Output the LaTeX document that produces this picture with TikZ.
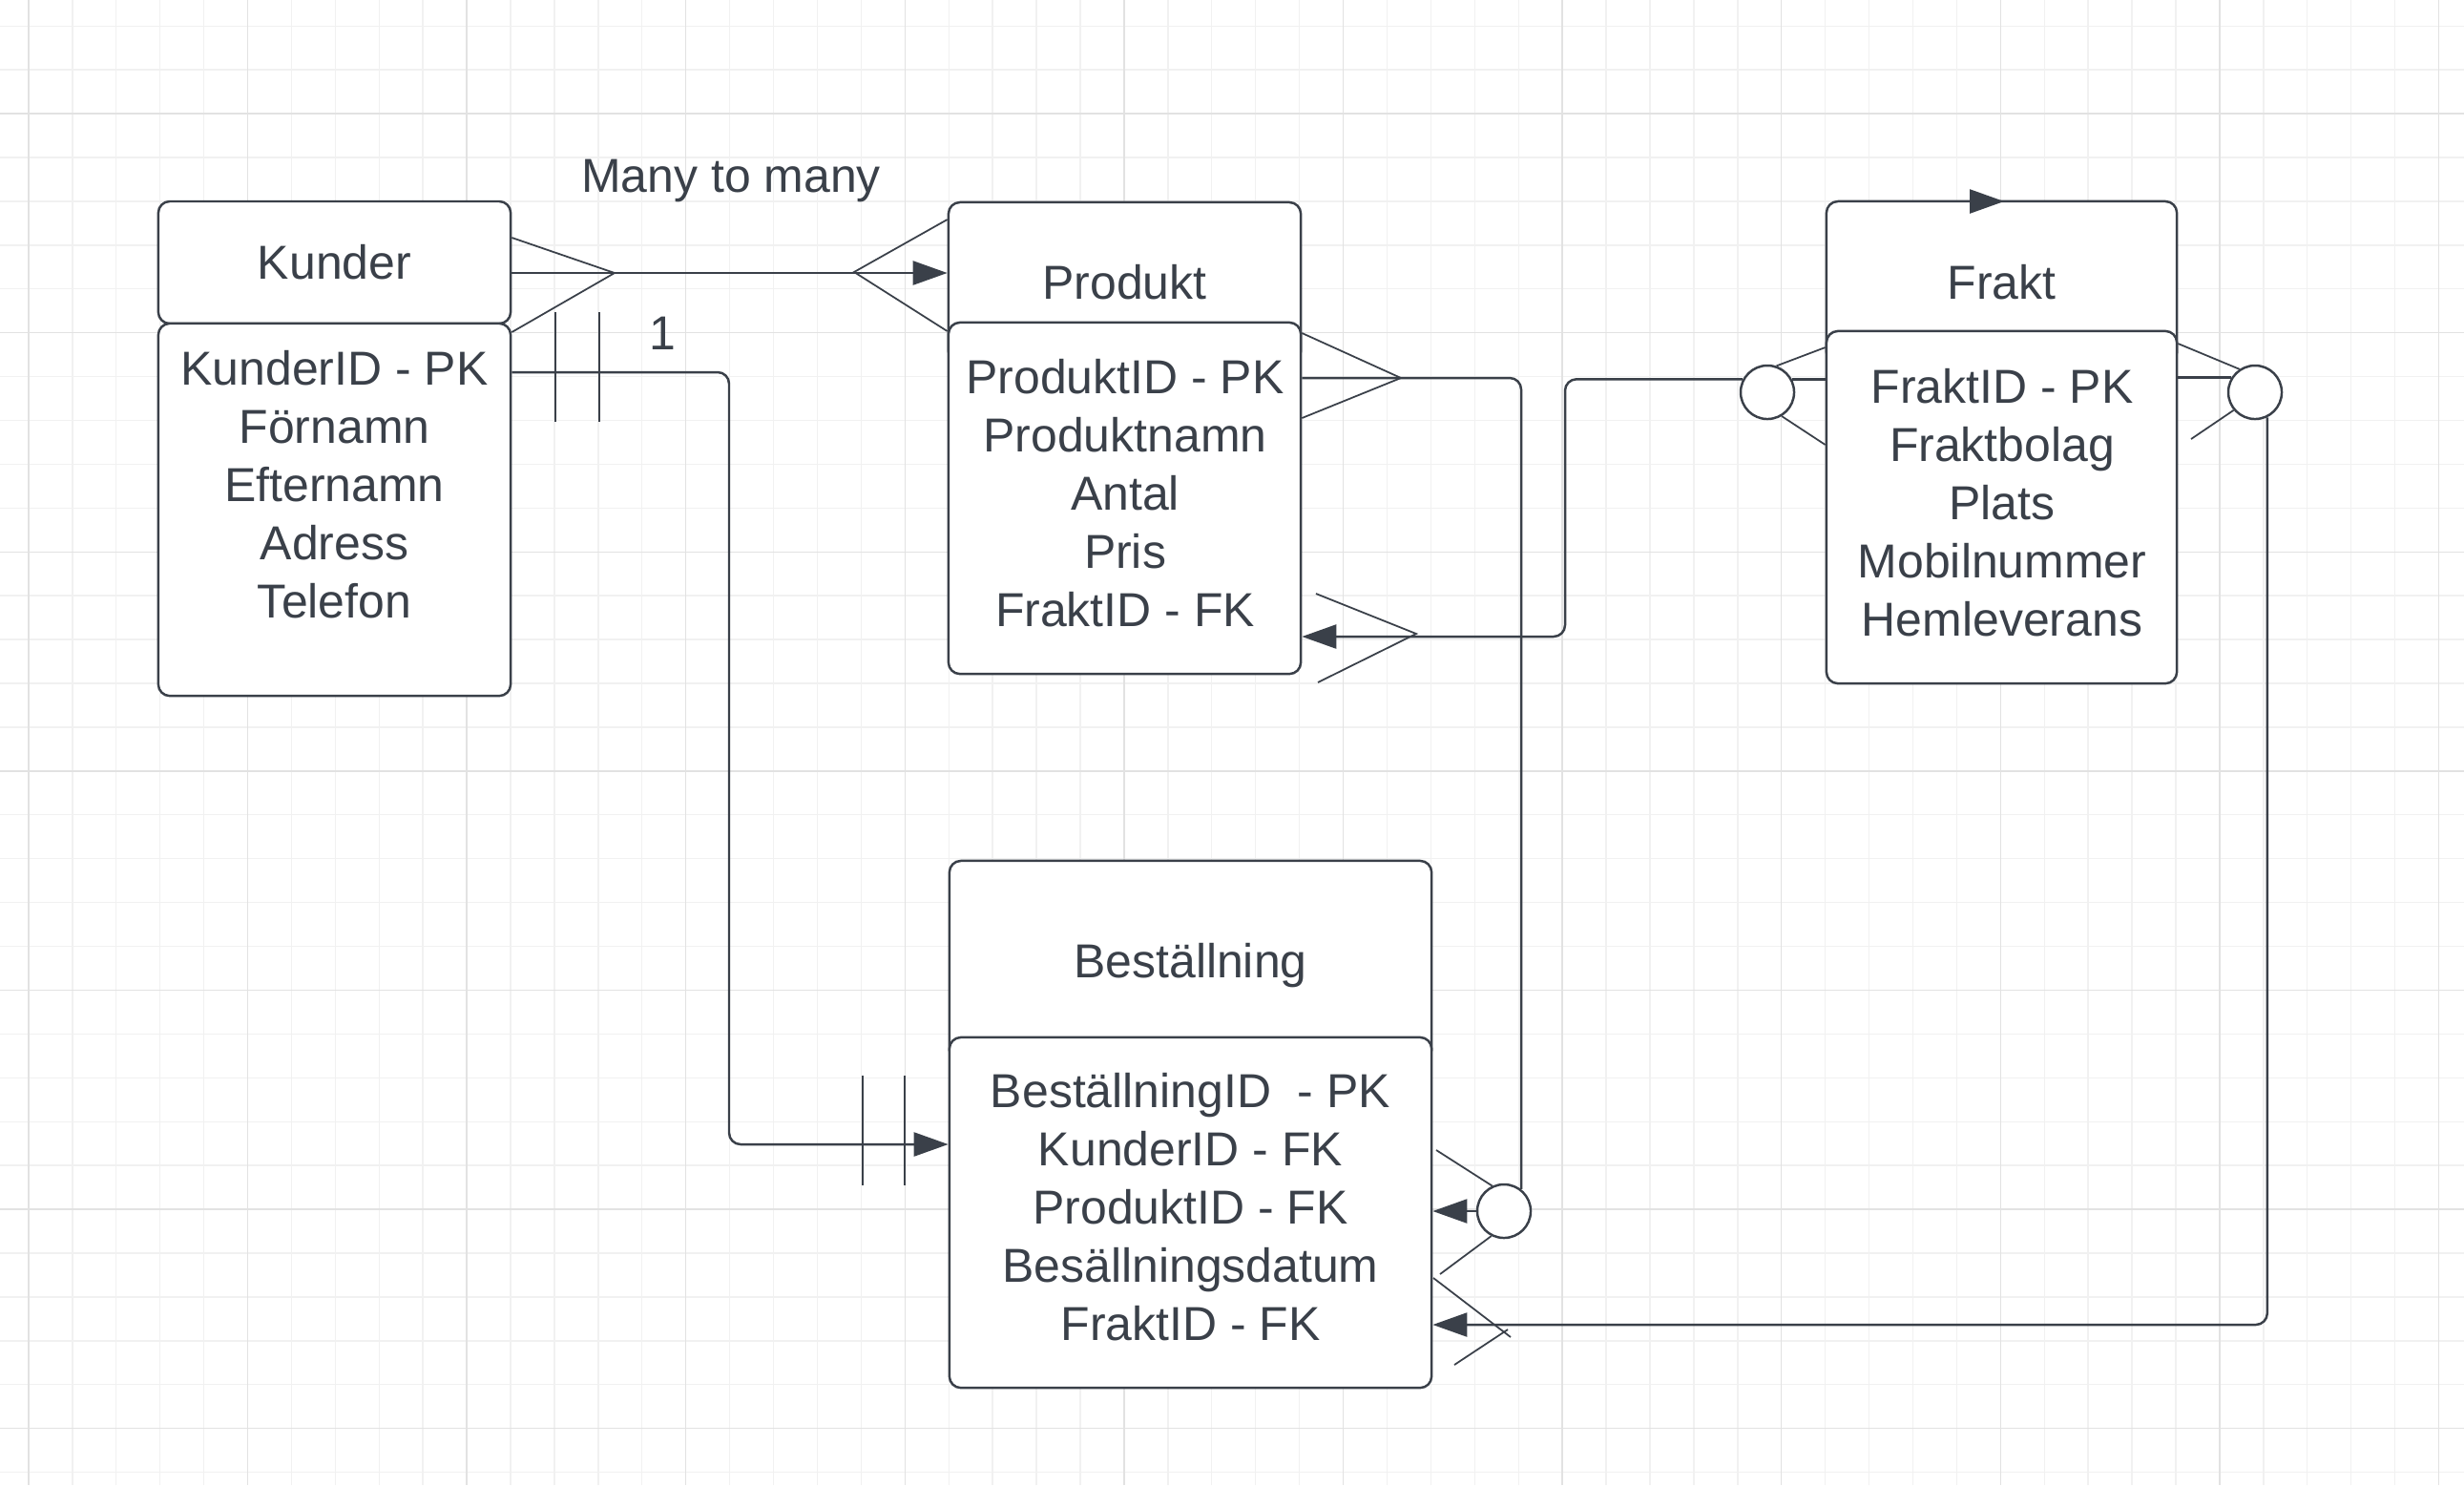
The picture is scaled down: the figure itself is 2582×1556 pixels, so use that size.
\documentclass[tikz,border=0pt]{standalone}
\usepackage{fontspec}
\setmainfont{Liberation Sans}
\usetikzlibrary{arrows.meta}

\definecolor{ink}{HTML}{3A4049}
\definecolor{gridfine}{HTML}{F1F1F1}
\definecolor{gridmajor}{HTML}{E2E2E2}

\tikzset{
    entity/.style={draw=ink, line width=0.7pt, fill=white, rounded corners=0.12cm, inner sep=0pt},
    title/.style={text=ink, font=\fontsize{14.2pt}{17.36pt}\selectfont, text height=10.2pt, text depth=0pt, inner sep=0pt},
    fields/.style={text=ink, font=\fontsize{14.2pt}{17.36pt}\selectfont, align=center, inner sep=0pt},
    link/.style={draw=ink, line width=0.7pt, rounded corners=0.12cm},
    foot/.style={draw=ink, line width=0.5pt},
    tip/.style={-{Triangle[length=0.36cm,width=0.25cm]}},
    ring/.style={circle, draw=ink, line width=0.7pt, fill=white, minimum size=0.56cm, inner sep=0pt}
}

\begin{document}
\begin{tikzpicture}[x=0.01cm, y=-0.01cm]

    \useasboundingbox (0,0) rectangle (2582,1556);
    \fill[white] (0,0) rectangle (2582,1556);

            %grid
            \foreach \i in {0,...,55} \draw[gridfine, line width=0.4pt] (29.9+45.92*\i,0) -- (29.9+45.92*\i,1556);
            \foreach \i in {0,...,33} \draw[gridfine, line width=0.4pt] (0,27.2+45.92*\i) -- (2582,27.2+45.92*\i);
            \foreach \i in {0,...,11} \draw[gridmajor, line width=0.4pt] (29.9+229.6*\i,0) -- (29.9+229.6*\i,1556);
            \foreach \i in {0,...,6} \draw[gridmajor, line width=0.4pt] (0,119+229.6*\i) -- (2582,119+229.6*\i);

            %entities
            \node[entity, title, minimum width=3.69cm, minimum height=1.28cm] (kunderHead) at (350.5,275) {Kunder};
            \node[entity, minimum width=3.69cm, minimum height=3.90cm] (kunderBox) at (350.5,534) {};
            \node[fields] (kunderAttr) at (350.5,508) {KunderID - PK\\Förnamn\\Efternamn\\Adress\\Telefon};

            \node[entity, title, minimum width=3.69cm, minimum height=1.68cm] (produktHead) at (1178.5,296) {Produkt};
            \node[entity, minimum width=3.69cm, minimum height=3.68cm] (produktBox) at (1178.5,522) {};
            \node[fields] (produktAttr) at (1179,517) {ProduktID - PK\\Produktnamn\\Antal\\Pris\\FraktID - FK};

            \node[entity, title, minimum width=3.67cm, minimum height=1.70cm] (fraktHead) at (2097.5,296) {Frakt};
            \node[entity, minimum width=3.67cm, minimum height=3.69cm] (fraktBox) at (2097.5,531.5) {};
            \node[fields] (fraktAttr) at (2098,527) {FraktID - PK\\Fraktbolag\\Plats\\Mobilnummer\\Hemleverans};

            \node[entity, title, minimum width=5.05cm, minimum height=2.10cm] (bestHead) at (1247.5,1007) {Beställning};
            \node[entity, minimum width=5.05cm, minimum height=3.67cm] (bestBox) at (1247.5,1270.5) {};
            \node[fields] (bestAttr) at (1247.5,1265) {BeställningID\ \ - PK\\KunderID - FK\\ProduktID - FK\\Besällningsdatum\\FraktID - FK};

            %rings
            \node[ring] (fpRing) at (1852,411) {};
            \node[ring] (fbRing) at (2363,411) {};
            \node[ring] (pbRing) at (1576,1269) {};

            %labels
            \node[title] (manyLabel) at (766,184) {Many to many};
            \node[title] (oneLabel) at (694,349) {1};

            %kunder - produkt
            \draw[link,tip] (kunderHead.east |- 0,286) -- (produktHead.west |- 0,286);
            \draw[foot] (kunderHead.east |- 0,249) -- (644,286) -- (kunderBox.east |- 0,348);
            \draw[foot] (produktHead.west |- 0,230) -- (895,285) -- (produktBox.west |- 0,347);

            %kunder - bestallning
            \draw[link,tip] (kunderBox.east |- 0,390) -| (764,1199) -- (bestBox.west |- 0,1199);
            \draw[foot] (582,327) -- (582,442) (628,327) -- (628,442);
            \draw[foot] (904,1127) -- (904,1242) (948,1127) -- (948,1242);

            %produkt - bestallning
            \draw[link] (produktBox.east |- 0,396) -| (pbRing.52);
            \draw[link,tip] (pbRing.west) -- (bestBox.east |- pbRing.west);
            \draw[foot] (produktBox.east |- 0,349) -- (1468,396) -- (produktBox.east |- 0,438);
            \draw[foot] (1505,1205) -- (pbRing.115);
            \draw[foot] (1509,1335) -- (pbRing.-117);

            %frakt - produkt
            \draw[link] (fraktBox.west |- fpRing.28) -- (fpRing.28);
            \draw[link,tip] (fpRing.152) -| (1640,667) -- (produktBox.east |- 0,667);
            \draw[foot] (fraktBox.west |- 0,364) -- (fpRing.71);
            \draw[foot] (fraktBox.west |- 0,466) -- (fpRing.-59);
            \draw[foot] (1379,622) -- (1484,664) -- (1381,715);

            %frakt - bestallning
            \draw[link] (fraktBox.east |- fbRing.148) -- (fbRing.148);
            \draw[link,tip] (fbRing.-64) |- (bestBox.east |- 0,1388);
            \draw[foot] (fraktBox.east |- 0,360) -- (fbRing.124);
            \draw[foot] (2296,460) -- (fbRing.220);
            \draw[foot] (1502,1339) -- (1583,1401) (1524,1430) -- (1580,1393);

            %stray tip
            \draw[link,tip] (2060,211) -- (2100,211);
        \end{tikzpicture}
\end{document}
